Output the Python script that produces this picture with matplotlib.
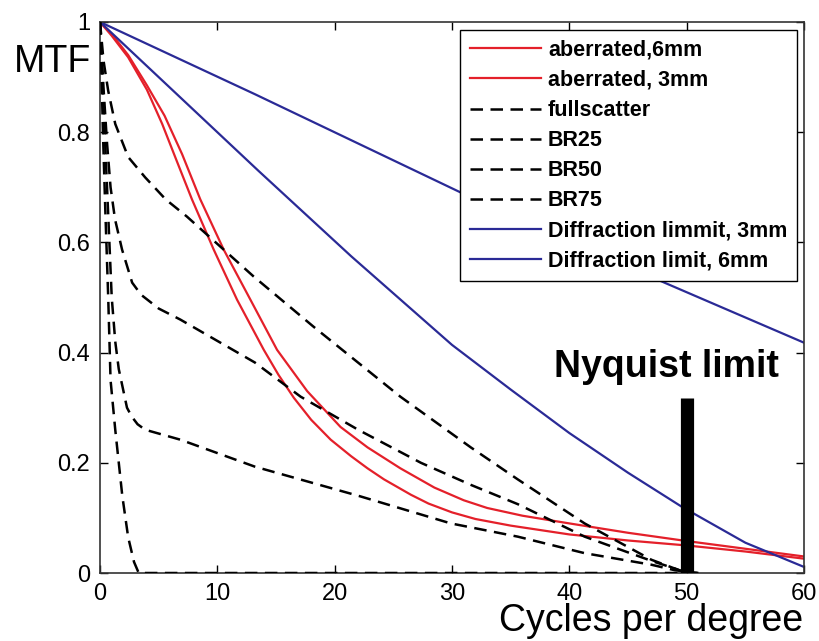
import matplotlib
matplotlib.use("Agg")
import matplotlib.pyplot as plt

plt.rcParams['font.family'] = ['Liberation Sans', 'DejaVu Sans']

# ---- data ----
ab6_x = [0, 1, 2.4, 4, 5.3, 6.5, 7.84, 9.69, 11.68, 13.96, 15.2, 16.52, 18, 19.66, 21.4, 22.8, 24.2, 26.5, 28, 30, 32, 35, 40, 45, 50, 55, 60]
ab6_y = [1, 0.975, 0.936, 0.877, 0.815, 0.75, 0.678, 0.587, 0.496, 0.405, 0.36, 0.318, 0.278, 0.242, 0.212, 0.19, 0.17, 0.142, 0.126, 0.11, 0.098, 0.086, 0.07, 0.059, 0.05, 0.039, 0.026]

ab3_x = [0, 1, 2.4, 4, 5.5, 7, 8.55, 10.54, 12.82, 15.09, 17.66, 20.5, 22.8, 25.6, 28.5, 31, 33, 36, 40, 45, 50, 55, 60]
ab3_y = [1, 0.978, 0.94, 0.885, 0.83, 0.76, 0.678, 0.587, 0.496, 0.405, 0.33, 0.265, 0.228, 0.19, 0.155, 0.132, 0.118, 0.104, 0.09, 0.073, 0.058, 0.044, 0.03]

full_x = [0, 0.1, 0.25, 0.45, 0.7, 0.9, 1.3, 1.9, 2.4, 2.9, 3.3, 4, 51]
full_y = [1, 0.93, 0.8, 0.66, 0.5, 0.35, 0.26, 0.14, 0.065, 0.02, 0.0, 0, 0]

br25_x = [0, 0.3, 0.7, 1.3, 2.4, 3.85, 5.6, 7.4, 13.1, 18.2, 25.6, 31.6, 35.6, 41.3, 47, 49, 50]
br25_y = [1, 0.93, 0.875, 0.815, 0.755, 0.718, 0.678, 0.647, 0.538, 0.447, 0.32, 0.228, 0.17, 0.09, 0.024, 0.008, 0]

br50_x = [0, 0.3, 0.6, 0.9, 1.28, 1.88, 2.74, 3.5, 5, 6.84, 13.2, 17.1, 22, 27.35, 31.6, 35.6, 41.3, 47, 49, 50]
br50_y = [1, 0.88, 0.78, 0.7, 0.642, 0.587, 0.527, 0.505, 0.48, 0.46, 0.382, 0.32, 0.26, 0.2, 0.16, 0.125, 0.066, 0.022, 0.008, 0]

br75_x = [0, 0.2, 0.4, 0.6, 0.8, 1.0, 1.3, 1.6, 1.9, 2.3, 2.7, 3.2, 3.85, 6.84, 13.2, 22.2, 29.9, 35.6, 41.3, 47, 49, 51]
br75_y = [1, 0.9, 0.8, 0.7, 0.6, 0.5, 0.42, 0.37, 0.34, 0.3, 0.284, 0.27, 0.26, 0.242, 0.193, 0.139, 0.09, 0.066, 0.036, 0.015, 0.005, 0]

dl3_x = [0, 5, 10, 13.5, 21.4, 30, 35, 40, 45, 49.6, 55, 60]
dl3_y = [1, 0.9, 0.8, 0.73, 0.575, 0.414, 0.333, 0.254, 0.182, 0.12, 0.055, 0.011]

dl6_x = [0, 13.2, 30.8, 48.1, 54.1, 60]
dl6_y = [1, 0.869, 0.69, 0.527, 0.472, 0.418]

labels = ['aberrated,6mm', 'aberrated, 3mm', 'fullscatter', 'BR25', 'BR50', 'BR75',
          'Diffraction limmit, 3mm', 'Diffraction limit, 6mm']

nyquist_x = [50, 50]
nyquist_y = [0, 0.318]
nyquist_text = 'Nyquist limit'

x_ticks = [0, 10, 20, 30, 40, 50, 60]
y_ticks = [0, 0.2, 0.4, 0.6, 0.8, 1]
y_tick_labels = ['0', '0.2', '0.4', '0.6', '0.8', '1']

# ---- drawing ----
RED = '#e4202a'
BLUE = '#2a2a96'
fig = plt.figure(figsize=(8.19, 6.41), dpi=100)
ax = fig.add_axes([100/819, 1-573/641, 704/819, 551/641])

dash = (5, 3)
ax.plot(ab6_x, ab6_y, color=RED, lw=1.6, label=labels[0], zorder=2)
ax.plot(ab3_x, ab3_y, color=RED, lw=1.6, label=labels[1], zorder=2)
for xs, ys, lab in [(full_x, full_y, labels[2]), (br25_x, br25_y, labels[3]),
                    (br50_x, br50_y, labels[4]), (br75_x, br75_y, labels[5])]:
    ax.plot(xs, ys, color='black', lw=1.8, dashes=dash, label=lab, zorder=3)
ax.plot(dl3_x, dl3_y, color=BLUE, lw=1.6, label=labels[6], zorder=2)
ax.plot(dl6_x, dl6_y, color=BLUE, lw=1.6, label=labels[7], zorder=2)

ax.plot(nyquist_x, nyquist_y, color='black', lw=9.5, solid_capstyle='butt', zorder=4)
ax.text(48.3, 0.355, nyquist_text, fontsize=27, fontweight='bold', ha='center', va='baseline')

ax.set_xlim(0, 60)
ax.set_ylim(0, 1)
ax.set_xticks(x_ticks)
ax.set_yticks(y_ticks)
ax.set_yticklabels(y_tick_labels)
ax.tick_params(direction='in', length=6, width=1, top=True, right=True, labelsize=17, pad=7)
for s in ax.spines.values():
    s.set_linewidth(1.2)
    s.set_color('#333333')

ax.set_ylabel('MTF', rotation=0, fontsize=27, ha='center', va='center')
ax.yaxis.set_label_coords(-0.068, 0.927)
ax.set_xlabel('Cycles per degree', fontsize=27, ha='center', va='center')
ax.xaxis.set_label_coords(0.783, -0.087)

leg = ax.legend(loc='upper right', bbox_to_anchor=(0.990, 0.985), borderaxespad=0,
                fancybox=False, framealpha=1, edgecolor='black',
                prop={'weight': 'bold', 'size': 15.5}, handlelength=3.3, handletextpad=0.33,
                labelspacing=0.42, borderpad=0.45)
leg.get_frame().set_linewidth(1.0)
leg.set_zorder(10)

fig.savefig('out.png', dpi=100, facecolor='white')
